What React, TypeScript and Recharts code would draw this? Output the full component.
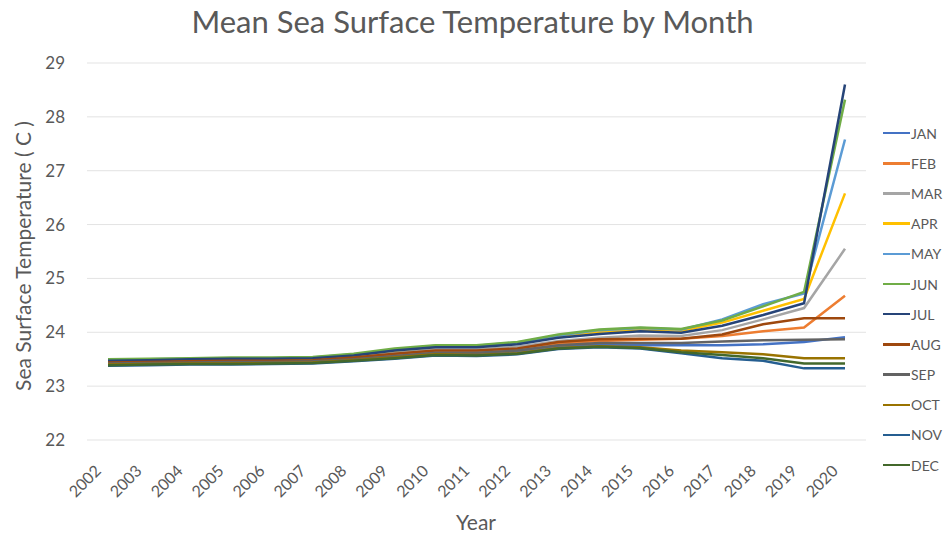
import React from "react";
import {
  LineChart,
  Line,
  XAxis,
  YAxis,
  CartesianGrid,
  Legend,
  Label,
} from "recharts";

const years = [
  "2002", "2003", "2004", "2005", "2006", "2007", "2008", "2009", "2010", "2011",
  "2012", "2013", "2014", "2015", "2016", "2017", "2018", "2019", "2020",
];

const jan = [23.41, 23.42, 23.43, 23.44, 23.44, 23.45, 23.49, 23.55, 23.61, 23.6, 23.64, 23.74, 23.77, 23.76, 23.76, 23.76, 23.78, 23.82, 23.91];
const feb = [23.43, 23.44, 23.45, 23.46, 23.46, 23.47, 23.51, 23.58, 23.64, 23.64, 23.68, 23.79, 23.84, 23.86, 23.88, 23.93, 24.02, 24.09, 24.68];
const mar = [23.45, 23.46, 23.47, 23.48, 23.48, 23.49, 23.54, 23.62, 23.68, 23.68, 23.73, 23.84, 23.9, 23.94, 23.93, 24.04, 24.24, 24.45, 25.55];
const apr = [23.48, 23.49, 23.5, 23.51, 23.51, 23.52, 23.58, 23.66, 23.73, 23.73, 23.79, 23.92, 24.01, 24.05, 24.03, 24.18, 24.4, 24.62, 26.58];
const may = [23.49, 23.5, 23.51, 23.52, 23.52, 23.53, 23.59, 23.68, 23.75, 23.75, 23.81, 23.94, 24.04, 24.08, 24.05, 24.24, 24.52, 24.72, 27.58];
const jun = [23.5, 23.51, 23.52, 23.53, 23.53, 23.54, 23.6, 23.7, 23.76, 23.76, 23.82, 23.96, 24.05, 24.09, 24.06, 24.22, 24.48, 24.75, 28.32];
const jul = [23.47, 23.48, 23.5, 23.51, 23.51, 23.52, 23.57, 23.66, 23.72, 23.72, 23.78, 23.9, 23.97, 24.02, 23.99, 24.12, 24.32, 24.54, 28.6];
const aug = [23.44, 23.45, 23.46, 23.47, 23.47, 23.48, 23.53, 23.6, 23.66, 23.66, 23.7, 23.82, 23.87, 23.88, 23.88, 23.96, 24.15, 24.26, 24.26];
const sep = [23.42, 23.43, 23.44, 23.45, 23.45, 23.46, 23.5, 23.56, 23.62, 23.62, 23.66, 23.76, 23.8, 23.8, 23.8, 23.83, 23.85, 23.86, 23.87];
const oct = [23.4, 23.41, 23.42, 23.42, 23.43, 23.44, 23.48, 23.53, 23.59, 23.58, 23.61, 23.71, 23.74, 23.72, 23.66, 23.63, 23.59, 23.52, 23.52];
const nov = [23.38, 23.39, 23.4, 23.4, 23.41, 23.42, 23.46, 23.51, 23.57, 23.56, 23.59, 23.69, 23.72, 23.7, 23.61, 23.52, 23.47, 23.33, 23.33];
const dec = [23.39, 23.4, 23.41, 23.41, 23.42, 23.43, 23.47, 23.52, 23.58, 23.57, 23.6, 23.7, 23.73, 23.71, 23.63, 23.58, 23.52, 23.42, 23.42];

const yTicks = [22, 23, 24, 25, 26, 27, 28, 29];

const months = [
  { key: "JAN", values: jan, color: "#4472C4" },
  { key: "FEB", values: feb, color: "#ED7D31" },
  { key: "MAR", values: mar, color: "#A5A5A5" },
  { key: "APR", values: apr, color: "#FFC000" },
  { key: "MAY", values: may, color: "#5B9BD5" },
  { key: "JUN", values: jun, color: "#70AD47" },
  { key: "JUL", values: jul, color: "#264478" },
  { key: "AUG", values: aug, color: "#9E480E" },
  { key: "SEP", values: sep, color: "#636363" },
  { key: "OCT", values: oct, color: "#997300" },
  { key: "NOV", values: nov, color: "#255E91" },
  { key: "DEC", values: dec, color: "#43682B" },
];

const data = years.map((year, i) => {
  const row: Record<string, string | number> = { year };
  months.forEach((m) => {
    row[m.key] = m.values[i];
  });
  return row;
});

const FONT = "Lato, 'Open Sans', sans-serif";
const TEXT = "#595959";

// rotated year labels, right end sitting just below-left of the point
const YearTick = (props: any) => {
  const { x, y, payload } = props;
  const ax = x - 6;
  const ay = y + 24;
  return (
    <text
      x={ax}
      y={ay}
      transform={`rotate(-45, ${ax}, ${ay})`}
      textAnchor="end"
      fill={TEXT}
      fontSize={16}
      fontFamily={FONT}
    >
      {payload.value}
    </text>
  );
};

const MonthLegend = () => (
  <div style={{ fontFamily: FONT, fontSize: 14, color: TEXT }}>
    {months.map((m) => (
      <div
        key={m.key}
        style={{ display: "flex", alignItems: "center", height: 30.2 }}
      >
        <span
          style={{
            display: "inline-block",
            width: 27,
            height: 2.5,
            background: m.color,
          }}
        />
        <span style={{ marginLeft: 1 }}>{m.key}</span>
      </div>
    ))}
  </div>
);

export default function App() {
  return (
    <div
      style={{
        position: "absolute",
        top: 0,
        left: 0,
        width: 949,
        height: 535,
        background: "#fff",
        overflow: "hidden",
      }}
    >
      <div
        style={{
          position: "absolute",
          top: 2,
          left: 0,
          width: 945,
          textAlign: "center",
          fontFamily: FONT,
          fontSize: 31,
          color: TEXT,
        }}
      >
        Mean Sea Surface Temperature by Month
      </div>
      <LineChart
        width={949}
        height={535}
        data={data}
        margin={{ top: 63, right: 83, bottom: 0, left: 0 }}
      >
        <CartesianGrid vertical={false} stroke="#E3E3E3" strokeWidth={1} />
        <XAxis
          dataKey="year"
          height={95}
          axisLine={false}
          tickLine={false}
          interval={0}
          padding={{ left: 21, right: 21 }}
          tick={<YearTick />}
        >
          <Label
            content={() => (
              <text
                x={476}
                y={530}
                textAnchor="middle"
                fill={TEXT}
                fontSize={21}
                fontFamily={FONT}
              >
                Year
              </text>
            )}
          />
        </XAxis>
        <YAxis
          width={87}
          domain={[22, 29]}
          ticks={yTicks}
          axisLine={false}
          tickLine={false}
          tickSize={0}
          tickMargin={22}
          tick={{ fill: TEXT, fontSize: 17, fontFamily: FONT }}
        >
          <Label
            content={() => (
              <text
                x={31}
                y={256}
                transform="rotate(-90, 31, 256)"
                textAnchor="middle"
                fill={TEXT}
                fontSize={21}
                fontFamily={FONT}
              >
                Sea Surface Temperature ( C )
              </text>
            )}
          />
        </YAxis>
        <Legend
          layout="vertical"
          align="center"
          verticalAlign="middle"
          content={<MonthLegend />}
          wrapperStyle={{ left: 883, top: 118, width: 66 }}
        />
        {months.map((m) => (
          <Line
            key={m.key}
            dataKey={m.key}
            stroke={m.color}
            strokeWidth={2.5}
            dot={false}
            activeDot={false}
            isAnimationActive={false}
          />
        ))}
      </LineChart>
    </div>
  );
}
